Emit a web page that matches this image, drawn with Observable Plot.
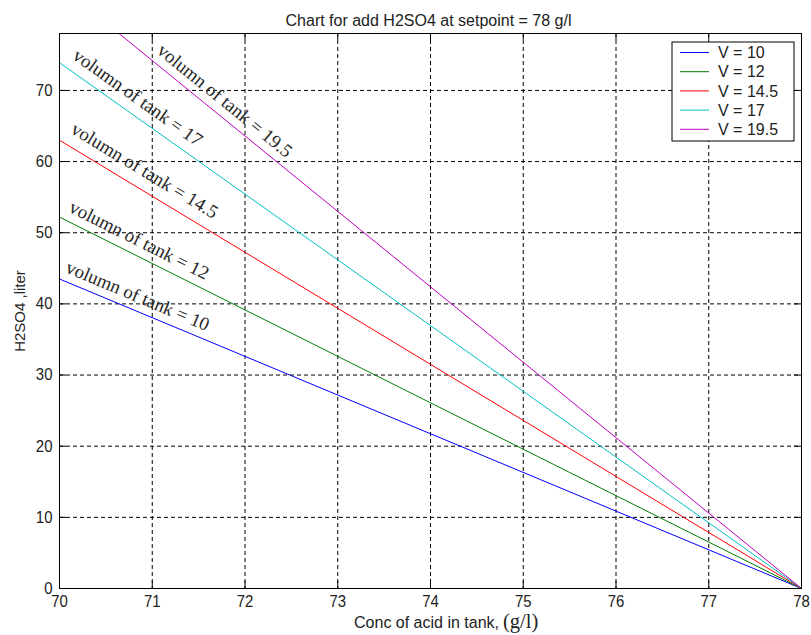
<!DOCTYPE html>
<html><head><meta charset="utf-8">
<script src="https://cdn.jsdelivr.net/npm/d3@7"></script>
<script src="https://cdn.jsdelivr.net/npm/@observablehq/plot@0.6"></script>
<style>
body{margin:0;background:#fff;}
</style></head><body><div id="chart"></div>
<script>
// ---- data ----
const volumes = [10, 12, 14.5, 17, 19.5];            // tank volume per series
const acidAtStart = [43.5, 52.2, 63.0, 73.9, 84.8];  // H2SO4 (liter) at conc = 70 g/l
const acidAtSetpoint = [0, 0, 0, 0, 0];              // H2SO4 (liter) at conc = 78 g/l
const concStart = 70;
const setpoint = 78;
const seriesColors = ["#0000ff", "#008000", "#ff0000", "#00bfbf", "#bf00bf"];
const xTicks = [70, 71, 72, 73, 74, 75, 76, 77, 78];
const yTicks = [0, 10, 20, 30, 40, 50, 60, 70];
const titleText = "Chart for add H2SO4 at setpoint = 78 g/l";
const xLabelMain = "Conc of acid in tank,";
const xLabelUnit = "(g/l)";
const yLabelText = "H2SO4 ,liter";
const labelPrefix = "volumn of tank = ";
const legendPrefix = "V = ";
// label placement (x start in data units, vertical gap in px above the line)
const labelStartX = [70.055, 70.09, 70.11, 70.13, 71.04];
const labelGap = [9, 10, 14, 13, 11];

// ---- layout ----
const W = 811, H = 635, mL = 59, mR = 10, mT = 33, mB = 47;
const pw = W - mL - mR, ph = H - mT - mB;
const yMax = 78;
const pxPerX = pw / (setpoint - concStart), pxPerY = ph / yMax;
const SANS = "'Liberation Sans', Arial, sans-serif";
const SERIF = "'Liberation Serif', 'Times New Roman', serif";

const lineData = volumes.flatMap((v, i) => [
  {V: v, conc: concStart, acid: acidAtStart[i], color: seriesColors[i]},
  {V: v, conc: setpoint, acid: acidAtSetpoint[i], color: seriesColors[i]}
]);

const labels = volumes.map((v, i) => {
  const x = labelStartX[i];
  const t = (x - concStart) / (setpoint - concStart);
  const yLine = acidAtStart[i] + t * (acidAtSetpoint[i] - acidAtStart[i]);
  const slopePx = (acidAtStart[i] - acidAtSetpoint[i]) * pxPerY / ((setpoint - concStart) * pxPerX);
  return {text: labelPrefix + v, x, y: yLine + labelGap[i] / pxPerY, angle: Math.atan(slopePx) * 180 / Math.PI};
});

const chart = Plot.plot({
  width: W, height: H,
  marginLeft: mL, marginRight: mR, marginTop: mT, marginBottom: mB,
  x: {domain: [concStart, setpoint]},
  y: {domain: [0, yMax]},
  style: {fontFamily: SANS, fontSize: "15px", color: "#222", background: "white"},
  marks: [
    Plot.ruleX(xTicks.slice(1, -1), {stroke: "#000", strokeWidth: 1, strokeDasharray: "4,3"}),
    Plot.ruleY(yTicks.slice(1), {stroke: "#000", strokeWidth: 1, strokeDasharray: "4,3"}),
    Plot.line(lineData, {x: "conc", y: "acid", z: "V", stroke: "color", strokeWidth: 1, clip: true}),
    Plot.text(labels, {x: "x", y: "y", text: "text", rotate: "angle", textAnchor: "start", lineAnchor: "bottom",
      fontFamily: SERIF, fontSize: 18.8, fill: "#262626"}),
    Plot.tickX(xTicks, {x: d => d, insetTop: ph - 7, stroke: "#000"}),
    Plot.tickX(xTicks, {x: d => d, insetBottom: ph - 7, stroke: "#000"}),
    Plot.tickY(yTicks, {y: d => d, insetRight: pw - 7, stroke: "#000"}),
    Plot.tickY(yTicks, {y: d => d, insetLeft: pw - 7, stroke: "#000"}),
    Plot.axisX({ticks: xTicks, tickSize: 0, tickPadding: 6, fontSize: 17, label: null, fill: "#222"}),
    Plot.axisY({ticks: yTicks, tickSize: 0, tickPadding: 7, fontSize: 17, label: null, fill: "#222"}),
    Plot.text([titleText], {frameAnchor: "top", dy: -19, dx: -2, fontSize: 16, fill: "#222"}),
    Plot.text([yLabelText], {frameAnchor: "left", textAnchor: "middle", lineAnchor: "middle", rotate: -90, dx: -39, fontSize: 15, fill: "#222"}),
    Plot.frame({stroke: "#000", strokeWidth: 1})
  ]
});
document.getElementById("chart").append(chart);

const svg = d3.select(chart);

// condensed look of the tick labels (as in the reference)
svg.selectAll('g[aria-label="x-axis tick label"] text, g[aria-label="y-axis tick label"] text').each(function() {
  const len = this.getComputedTextLength();
  this.setAttribute("textLength", (len * 0.88).toFixed(2));
  this.setAttribute("lengthAdjust", "spacingAndGlyphs");
});

// x-axis label: sans main part + serif unit part, as two adjacent texts
const splitX = 499;
svg.append("text").text(xLabelMain)
  .attr("x", splitX).attr("y", H - 7)
  .attr("text-anchor", "end").attr("fill", "#222")
  .attr("font-family", SANS).attr("font-size", 16);
svg.append("text").text(xLabelUnit)
  .attr("x", splitX + 4).attr("y", H - 7)
  .attr("text-anchor", "start").attr("fill", "#222")
  .attr("font-family", SERIF).attr("font-size", 20.5);

// legend (top-right, inside the axes)
const lgW = 122, lgH = 99;
const lgX = W - mR - 7 - lgW, lgY = mT + 9;
const lg = svg.append("g");
lg.append("rect").attr("x", lgX).attr("y", lgY).attr("width", lgW).attr("height", lgH)
  .attr("fill", "#fff").attr("stroke", "#000").attr("stroke-width", 1);
volumes.forEach((v, i) => {
  const cy = lgY + 10.5 + i * 19.2;
  lg.append("line").attr("x1", lgX + 8).attr("x2", lgX + 37).attr("y1", cy).attr("y2", cy)
    .attr("stroke", seriesColors[i]).attr("stroke-width", 1);
  lg.append("text").attr("x", lgX + 46).attr("y", cy).attr("dy", "0.35em")
    .attr("text-anchor", "start").attr("font-family", SANS)
    .attr("font-size", 16).attr("fill", "#222").text(legendPrefix + v);
});
</script></body></html>
